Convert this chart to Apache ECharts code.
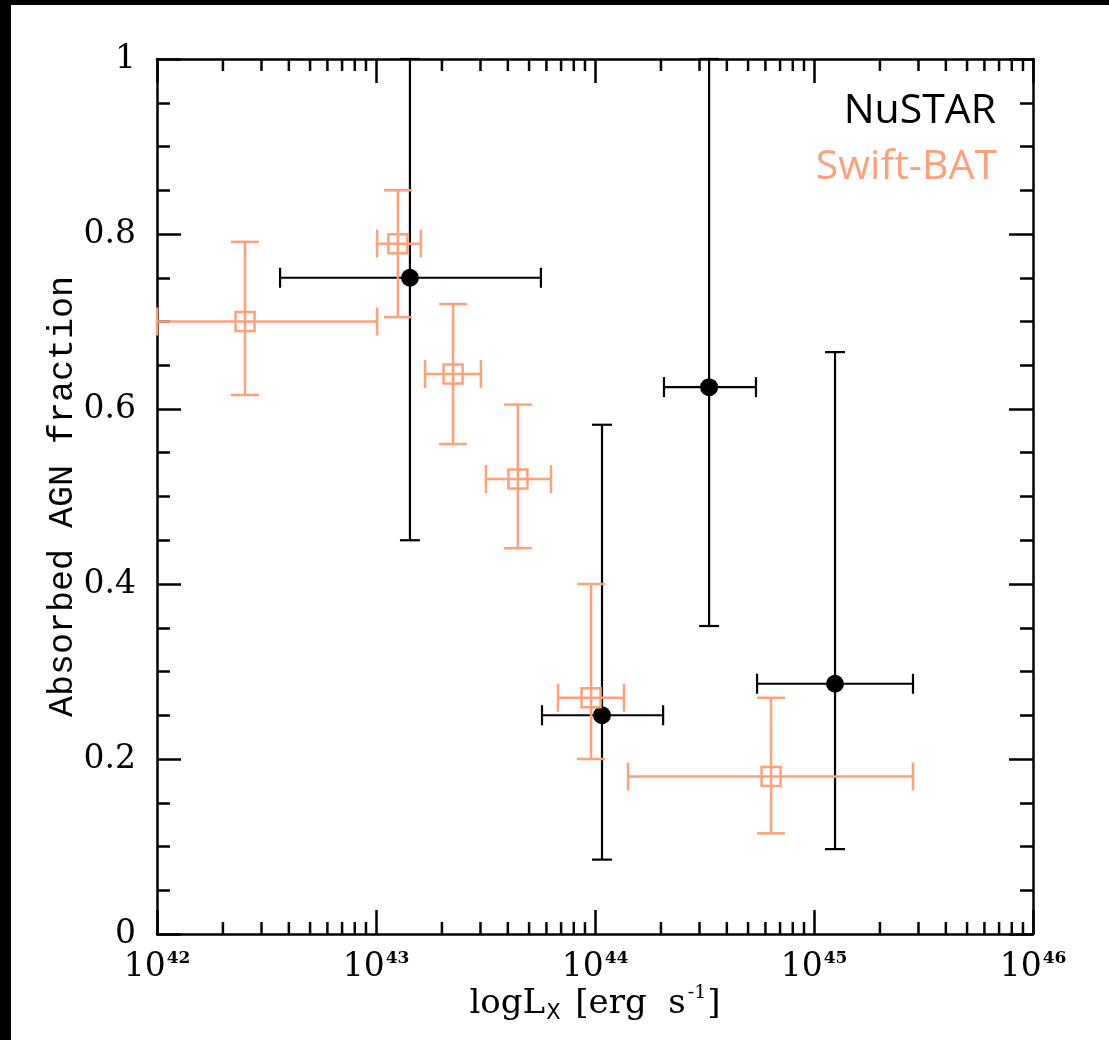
<!DOCTYPE html>
<html>
<head>
<meta charset="utf-8">
<title>Absorbed AGN fraction vs X-ray luminosity</title>
<script src="https://cdn.jsdelivr.net/npm/echarts@6/dist/echarts.min.js"></script>
<style>
  html, body { margin: 0; padding: 0; background: #000; width: 1109px; height: 1040px; overflow: hidden; }
  #chart { position: absolute; left: 11px; top: 5px; width: 1098px; height: 1035px; background: #fff; }
</style>
</head>
<body>
<div id="chart"></div>
<script>
// Decade exponents for the luminosity axis (values plotted as log10 L_X)
const xTickExponents = [42, 43, 44, 45, 46];
const yTickValues = [0, 0.2, 0.4, 0.6, 0.8, 1];

// NuSTAR sample: log L_X, its range, absorbed fraction and its range
const nustarLogL      = [43.155, 44.032, 44.521, 45.096];
const nustarLogLLow   = [42.562, 43.758, 44.315, 44.740];
const nustarLogLHigh  = [43.753, 44.311, 44.735, 45.452];
const nustarFrac      = [0.750, 0.250, 0.625, 0.286];
const nustarFracLow   = [0.450, 0.085, 0.352, 0.097];
const nustarFracHigh  = [1.000, 0.582, 1.000, 0.665];

// Swift-BAT sample
const batLogL      = [42.402, 43.100, 43.352, 43.648, 43.982, 44.804];
const batLogLLow   = [42.000, 43.005, 43.224, 43.502, 43.831, 44.151];
const batLogLHigh  = [43.005, 43.205, 43.479, 43.799, 44.132, 45.452];
const batFrac      = [0.700, 0.789, 0.640, 0.520, 0.270, 0.180];
const batFracLow   = [0.616, 0.705, 0.560, 0.441, 0.200, 0.115];
const batFracHigh  = [0.791, 0.850, 0.720, 0.605, 0.400, 0.270];

const BLACK = '#000000';
const SALMON = '#FFA07A';

function rows(x, xl, xh, y, yl, yh) {
  return x.map((v, i) => [v, y[i], xl[i], xh[i], yl[i], yh[i]]);
}
const nustarRows = rows(nustarLogL, nustarLogLLow, nustarLogLHigh, nustarFrac, nustarFracLow, nustarFracHigh);
const batRows = rows(batLogL, batLogLLow, batLogLHigh, batFrac, batFracLow, batFracHigh);

// Log-decade minor tick positions (2..9 x 10^n)
const minorTickPos = [];
for (let d = xTickExponents[0]; d < xTickExponents[xTickExponents.length - 1]; d++) {
  for (let k = 2; k <= 9; k++) minorTickPos.push([d + Math.log10(k), 0]);
}

function errorBars(capHalf, color, width) {
  return function (params, api) {
    const x = api.value(0), y = api.value(1);
    const pL = api.coord([api.value(2), y]);
    const pR = api.coord([api.value(3), y]);
    const pB = api.coord([x, api.value(4)]);
    const pT = api.coord([x, api.value(5)]);
    const style = { stroke: color, lineWidth: width, fill: null };
    const seg = (x1, y1, x2, y2) => ({ type: 'line', shape: { x1, y1, x2, y2 }, style });
    return {
      type: 'group',
      children: [
        seg(pL[0], pL[1], pR[0], pR[1]),
        seg(pL[0], pL[1] - capHalf, pL[0], pL[1] + capHalf),
        seg(pR[0], pR[1] - capHalf, pR[0], pR[1] + capHalf),
        seg(pB[0], pB[1], pT[0], pT[1]),
        seg(pB[0] - capHalf, pB[1], pB[0] + capHalf, pB[1]),
        seg(pT[0] - capHalf, pT[1], pT[0] + capHalf, pT[1])
      ]
    };
  };
}

const axisLineStyle = { color: BLACK, width: 2.5 };
const serif = 'DejaVu Serif';

const chart = echarts.init(document.getElementById('chart'), null, { renderer: 'canvas' });

chart.setOption({
  animation: false,
  backgroundColor: '#ffffff',
  grid: { left: 146, top: 54, width: 876, height: 875, containLabel: false },
  xAxis: [
    {
      type: 'value', min: 42, max: 46, interval: 1, position: 'bottom',
      axisLine: { show: true, onZero: false, lineStyle: axisLineStyle },
      axisTick: { show: true, inside: true, length: 24, lineStyle: axisLineStyle },
      splitLine: { show: false },
      axisLabel: {
        margin: 16,
        formatter: v => '{b|10}{s|' + v + '}',
        rich: {
          b: { fontFamily: serif, fontSize: 33, color: BLACK, lineHeight: 34 },
          s: { fontFamily: serif, fontSize: 17, fontWeight: 'bold', color: BLACK, verticalAlign: 'top', lineHeight: 34, padding: [0, 0, 14, 1] }
        }
      },
      name: '{m|logL}{sub|X}{m| [erg  s}{sup|-1}{m|]}',
      nameLocation: 'middle',
      nameGap: 50,
      nameMoveOverlap: false,
      nameTextStyle: {
        rich: {
          m: { fontFamily: serif, fontSize: 34, color: BLACK, lineHeight: 40 },
          sub: { fontFamily: 'DejaVu Sans', fontSize: 21, color: BLACK, verticalAlign: 'bottom', lineHeight: 40, padding: [10, 4, 0, 1] },
          sup: { fontFamily: serif, fontSize: 19, color: BLACK, verticalAlign: 'top', lineHeight: 40, padding: [0, 1, 12, 2] }
        }
      }
    },
    {
      type: 'value', min: 42, max: 46, interval: 1, position: 'top',
      axisLine: { show: true, onZero: false, lineStyle: axisLineStyle },
      axisTick: { show: true, inside: true, length: 24, lineStyle: axisLineStyle },
      axisLabel: { show: false },
      splitLine: { show: false }
    }
  ],
  yAxis: [
    {
      type: 'value', min: 0, max: 1, interval: 0.2, position: 'left',
      axisLine: { show: true, onZero: false, lineStyle: axisLineStyle },
      axisTick: { show: true, inside: true, length: 24, lineStyle: axisLineStyle },
      minorTick: { show: true, splitNumber: 4, length: 13, lineStyle: axisLineStyle },
      splitLine: { show: false },
      axisLabel: {
        margin: 21,
        fontFamily: serif, fontSize: 33, color: BLACK,
        formatter: v => (v === 0 || v === 1) ? String(v) : v.toFixed(1)
      },
      name: 'Absorbed AGN fraction',
      nameLocation: 'middle',
      nameGap: 77,
      nameMoveOverlap: false,
      nameTextStyle: { fontFamily: 'Liberation Mono', fontSize: 35, color: BLACK }
    },
    {
      type: 'value', min: 0, max: 1, interval: 0.2, position: 'right',
      axisLine: { show: true, onZero: false, lineStyle: axisLineStyle },
      axisTick: { show: true, inside: true, length: 24, lineStyle: axisLineStyle },
      minorTick: { show: true, splitNumber: 4, length: 13, lineStyle: axisLineStyle },
      splitLine: { show: false },
      axisLabel: { show: false }
    }
  ],
  graphic: [
    { type: 'text', right: 1098 - 985, top: 86, style: { text: 'NuSTAR', fill: BLACK, font: '41px "Open Sans"' } },
    { type: 'text', right: 1098 - 986, top: 142, style: { text: 'Swift-BAT', fill: SALMON, font: '41px "Open Sans"' } }
  ],
  series: [
    {
      name: 'minor ticks', type: 'custom', silent: true, z: 1,
      data: minorTickPos,
      renderItem: (params, api) => {
        const b = api.coord([api.value(0), 0]);
        const t = api.coord([api.value(0), 1]);
        const style = { stroke: BLACK, lineWidth: 2.5 };
        return {
          type: 'group', children: [
            { type: 'line', shape: { x1: b[0], y1: b[1], x2: b[0], y2: b[1] - 12 }, style },
            { type: 'line', shape: { x1: t[0], y1: t[1], x2: t[0], y2: t[1] + 12 }, style }
          ]
        };
      }
    },
    { name: 'NuSTAR errors', type: 'custom', z: 2, data: nustarRows, renderItem: errorBars(10, BLACK, 2.2), encode: { x: 0, y: 1 } },
    { name: 'Swift-BAT errors', type: 'custom', z: 3, data: batRows, renderItem: errorBars(14, SALMON, 2.5), encode: { x: 0, y: 1 } },
    {
      name: 'NuSTAR', type: 'scatter', z: 4, symbol: 'circle', symbolSize: 18,
      itemStyle: { color: BLACK, opacity: 1 },
      data: nustarRows.map(r => [r[0], r[1]])
    },
    {
      name: 'Swift-BAT', type: 'scatter', z: 5, symbol: 'rect', symbolSize: 19,
      itemStyle: { color: 'rgba(0,0,0,0)', borderColor: SALMON, borderWidth: 2.5, opacity: 1 },
      data: batRows.map(r => [r[0], r[1]])
    }
  ]
});
</script>
</body>
</html>
